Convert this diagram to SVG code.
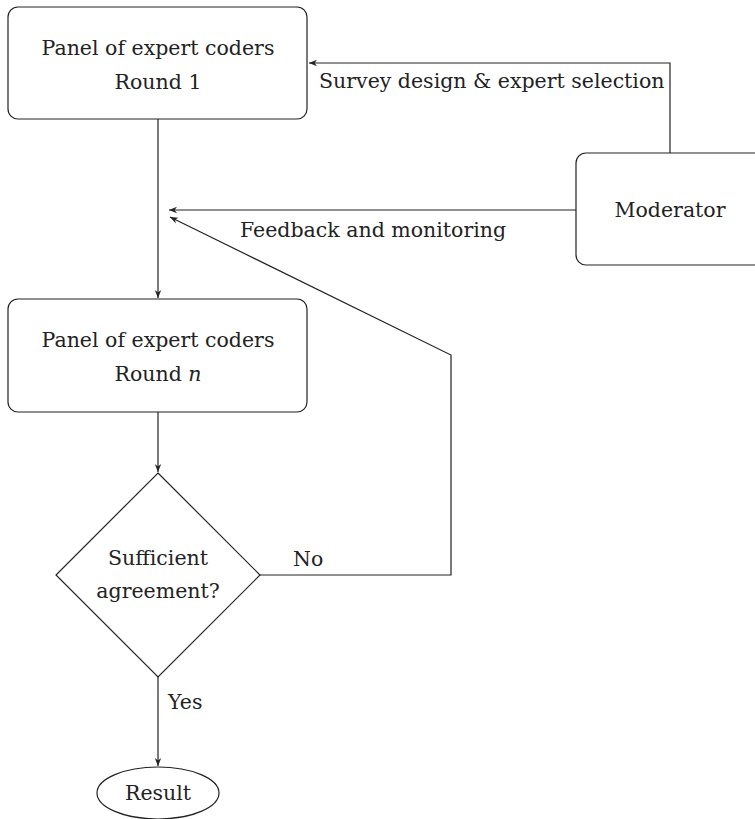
<svg xmlns="http://www.w3.org/2000/svg" width="755" height="819" viewBox="0 0 755 819">
<style>
.n{fill:#fff;stroke:#222;stroke-width:1.2}
.c{fill:none;stroke:#222;stroke-width:1.2}
text{font-family:"DejaVu Serif",serif;font-size:20.5px;fill:#222;text-anchor:middle}
.l{text-anchor:start}
</style>
<defs>
<marker id="a" viewBox="0 0 10 10" refX="10" refY="5" markerWidth="8" markerHeight="8" markerUnits="userSpaceOnUse" orient="auto">
<path d="M0,1 L10,5 L0,9 L3,5 Z" fill="#222"/>
</marker>
</defs>
<g id="connectors">
<line class="c" x1="158" y1="119" x2="158" y2="298" marker-end="url(#a)"/>
<line class="c" x1="158" y1="412" x2="158" y2="472" marker-end="url(#a)"/>
<line class="c" x1="158" y1="677" x2="158" y2="766" marker-end="url(#a)"/>
<polyline class="c" points="670,153 670,63 309,63" marker-end="url(#a)"/>
<line class="c" x1="576" y1="210" x2="169" y2="210" marker-end="url(#a)"/>
<polyline class="c" points="260,575 451,575 451,355 170,217" marker-end="url(#a)"/>
<text class="l" x="319" y="88">Survey design &amp; expert selection</text>
<text class="l" x="240" y="237">Feedback and monitoring</text>
<text class="l" x="293" y="566">No</text>
<text class="l" x="168" y="709">Yes</text>
</g>
<g id="round1">
<rect class="n" x="8" y="7" width="299" height="112" rx="10"/>
<text x="158" y="55">Panel of expert coders</text>
<text x="158" y="89">Round 1</text>
</g>
<g id="roundn">
<rect class="n" x="8" y="299" width="299" height="113" rx="10"/>
<text x="158" y="347">Panel of expert coders</text>
<text x="158" y="381">Round <tspan font-style="italic">n</tspan></text>
</g>
<g id="moderator">
<rect class="n" x="576" y="153" width="190" height="112" rx="10"/>
<text x="670" y="217">Moderator</text>
</g>
<g id="decision">
<polygon class="n" points="158,473 260,575 158,677 56,575"/>
<text x="158" y="565">Sufficient</text>
<text x="158" y="598">agreement?</text>
</g>
<g id="result">
<ellipse class="n" cx="158" cy="793" rx="61" ry="26"/>
<text x="158" y="800">Result</text>
</g>
</svg>
